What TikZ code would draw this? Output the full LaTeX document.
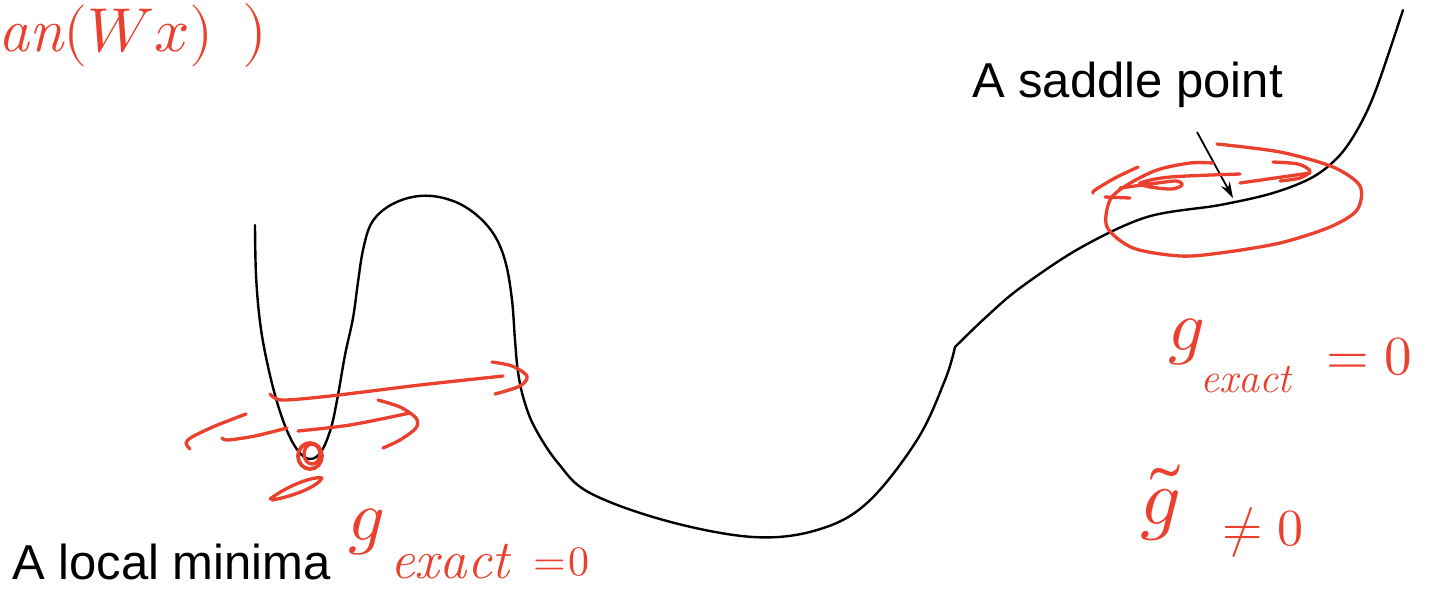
\documentclass[tikz,border=0pt]{standalone}
\usepackage{fontspec}
\usepackage{unicode-math}
\setmathfont{Latin Modern Math}
\newfontfamily\labelfont{Liberation Sans}
\usetikzlibrary{arrows.meta}
\definecolor{inkred}{RGB}{234,64,45}
\begin{document}
\begin{tikzpicture}[x=1pt,y=-1pt,
  curve/.style={draw=black, line width=2.4pt, line cap=round, line join=round},
  ink/.style={draw=inkred, line width=3.3pt, line cap=round, line join=round},
  inktext/.style={text=inkred, inner sep=0pt, anchor=base west},
  blacklabel/.style={inner sep=0pt, anchor=base west, font={\labelfont\fontsize{49}{49}\selectfont}},
  pointer/.style={draw=black, line width=1.8pt, -{Stealth[length=16pt,width=10pt]}}]
\useasboundingbox (0,0) rectangle (1432,590);

% black landscape curve
\draw[curve] plot[smooth, tension=0.6] coordinates {(255,225) (256,275) (260,322) (267,362) (277,402) (288,433) (299,452) (310,459) (321,452) (331,428) (338,395) (345,355) (353,318) (358,282) (363,250) (371,224) (386,208) (408,198) (432,196) (458,203) (480,218) (496,238) (506,264) (512,300) (515,340) (518,372) (524,400) (535,428) (558,463) (590,493) (667,521) (753,537) (817,530) (867,503) (917,440) (945,380) (955,347)};
\draw[curve] plot[smooth, tension=0.55] coordinates {(955,347) (985,318) (1020,288) (1080,248) (1147,217) (1220,205) (1273,193) (1313,177) (1340,155) (1360,125) (1377,87) (1403,10)};

% labels
\node[blacklabel] (saddle) at (972,97) {A saddle point};
\node[blacklabel] (localmin) at (12,579) {A local minima};
\coordinate (sptail) at (1197,132);
\coordinate (sptip) at (1233,198);
\draw[pointer] (sptail) -- (sptip);

% local minimum annotations
\draw[ink, line width=3.8pt] (310,456) ellipse [x radius=12, y radius=13];
\draw[ink] (312,454) ellipse [x radius=8, y radius=10];
\draw[ink] (270,499) .. controls (290,484) and (315,476) .. (322,478) .. controls (318,486) and (295,496) .. (272,500);
\draw[ink] plot[smooth] coordinates {(246,414) (215,426) (192,437) (186,443) (190,449)};
\draw[ink] plot[smooth] coordinates {(222,438) (228,440) (255,436) (287,428)};
\draw[ink] plot[smooth] coordinates {(298,431) (350,425) (410,413)};
\draw[ink] plot[smooth] coordinates {(378,400) (400,407) (416,418) (416,428) (400,440) (383,448)};
\draw[ink] plot[smooth] coordinates {(270,394) (282,400) (330,396) (420,385) (503,376)};
\draw[ink] plot[smooth] coordinates {(492,362) (512,366) (527,376) (520,386) (495,394)};

% saddle annotations
\draw[ink] plot[smooth] coordinates {(1217,144) (1280,152) (1333,167) (1360,186) (1357,210) (1330,227) (1280,243) (1220,253) (1180,256) (1133,248) (1107,227) (1110,200) (1127,185) (1157,170) (1190,163) (1213,163)};
\draw[ink] plot[smooth] coordinates {(1138,167) (1115,178) (1095,190) (1093,193)};
\draw[ink] (1105,197) -- (1130,198);
\draw[ink] plot[smooth] coordinates {(1120,188) (1150,184) (1176,181) (1182,185) (1172,189) (1150,187) (1140,183) (1170,177) (1240,174)};
\draw[ink] plot[smooth] coordinates {(1240,183) (1275,178) (1310,173)};
\draw[ink] plot[smooth] coordinates {(1273,162) (1298,164) (1310,171) (1300,178) (1280,181)};

% handwritten texts
\node[inktext, font=\fontsize{62}{62}\selectfont] (wtxt) at (-2,51) {$\mathit{an}(Wx)$};
\node[inktext, font=\fontsize{64}{64}\selectfont] (bigparen) at (242,51) {$)$};

\node[inktext, font=\fontsize{72}{72}\selectfont] (g1) at (1168,350) {$g$};
\node[inktext, font=\fontsize{42}{42}\selectfont] (ex1) at (1200,392) {$\mathit{exact}$};
\node[inktext, font=\fontsize{55}{55}\selectfont] (eq1) at (1326,374) {$=0$};

\node[inktext, font=\fontsize{72}{72}\selectfont] (g2) at (348,540) {$g$};
\node[inktext, font=\fontsize{55}{55}\selectfont] (ex2) at (390,578) {$\mathit{exact}$};
\node[inktext, font=\fontsize{42}{42}\selectfont] (eq2) at (533,575) {$=\mkern-4mu0$};

\node[inktext, font=\fontsize{80}{80}\selectfont] (g3) at (1140,524) {$\tilde{g}$};
\node[inktext, font=\fontsize{52}{52}\selectfont] (neq) at (1222,545) {$\neq0$};
\end{tikzpicture}
\end{document}
